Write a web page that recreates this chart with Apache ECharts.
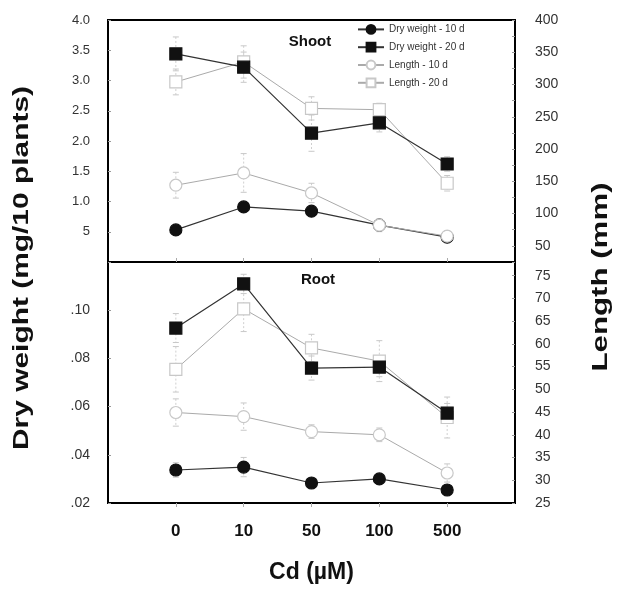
<!DOCTYPE html>
<html>
<head>
<meta charset="utf-8">
<script src="https://cdn.jsdelivr.net/npm/echarts@6/dist/echarts.min.js"></script>
<style>
  html, body { margin: 0; padding: 0; background: #fff; }
  #chart { width: 617px; height: 591px; }
</style>
</head>
<body>
<div id="chart"></div>
<script>
// categories (Cd, uM)
var cats = ['0', '10', '50', '100', '500'];
var names = ['Dry weight - 10 d', 'Dry weight - 20 d', 'Length - 10 d', 'Length - 20 d'];

// shoot (top panel): dry weight mg/10 plants, length mm
var shootDw10 = [0.53, 0.91, 0.84, 0.61, 0.41];
var shootDw20 = [3.44, 3.22, 2.13, 2.30, 1.62];
var shootLen10 = [144, 163, 132, 82, 65];
var shootLen20 = [304, 335, 263, 261, 147];
var shootDw10Err = [0.05, 0.08, 0.06, 0.05, 0.04];
var shootDw20Err = [0.28, 0.25, 0.3, 0.15, 0.12];
var shootLen10Err = [20, 30, 15, 10, 8];
var shootLen20Err = [20, 25, 18, 10, 12];

// root (bottom panel)
var rootDw10 = [0.0337, 0.0349, 0.0283, 0.0300, 0.0254];
var rootDw20 = [0.0926, 0.1109, 0.0760, 0.0764, 0.0573];
var rootLen10 = [44.9, 44.0, 40.7, 40.0, 31.6];
var rootLen20 = [54.4, 67.7, 59.1, 56.2, 43.8];
var rootDw10Err = [0.003, 0.004, 0.002, 0.002, 0.002];
var rootDw20Err = [0.006, 0.004, 0.005, 0.004, 0.004];
var rootLen10Err = [3, 3, 1.5, 1.5, 2];
var rootLen20Err = [5, 5, 3, 4.5, 4.5];

var chart = echarts.init(document.getElementById('chart'));
var FONT = 'Liberation Sans, Arial, sans-serif';

function pts(arr) {
  return arr.map(function (v, i) { return [i + 1, v]; });
}
function errPts(arr, err) {
  return arr.map(function (v, i) { return [i + 1, v, err[i]]; });
}

// filled circle, filled square, open circle, open square
var styles = [
  { symbol: 'circle', size: 12, fill: '#111', border: '#111', line: '#333', lw: 1.2 },
  { symbol: 'rect', size: 12, fill: '#111', border: '#111', line: '#333', lw: 1.2 },
  { symbol: 'circle', size: 12, fill: '#fff', border: '#c8c8c8', line: '#aaa', lw: 1 },
  { symbol: 'rect', size: 12, fill: '#fff', border: '#c8c8c8', line: '#aaa', lw: 1 }
];

function lineSeries(k, data, xi, yi, z) {
  var s = styles[k];
  return {
    name: names[k], type: 'line', xAxisIndex: xi, yAxisIndex: yi,
    data: pts(data), symbol: s.symbol, symbolSize: s.size, z: z,
    lineStyle: { color: s.line, width: s.lw },
    itemStyle: { color: s.fill, borderColor: s.border, borderWidth: 1.2 }
  };
}

function errSeries(data, err, xi, yi) {
  return {
    type: 'custom', xAxisIndex: xi, yAxisIndex: yi, silent: true, z: 2,
    data: errPts(data, err),
    renderItem: function (params, api) {
      var x = api.value(0), v = api.value(1), e = api.value(2);
      var hi = api.coord([x, v + e]), lo = api.coord([x, v - e]);
      var cap = { stroke: '#c8c8c8', lineWidth: 1 };
      return {
        type: 'group', children: [
          { type: 'line', shape: { x1: hi[0], y1: hi[1], x2: lo[0], y2: lo[1] },
            style: { stroke: '#cfcfcf', lineWidth: 1, lineDash: [2, 2] } },
          { type: 'line', shape: { x1: hi[0] - 3, y1: hi[1], x2: hi[0] + 3, y2: hi[1] }, style: cap },
          { type: 'line', shape: { x1: lo[0] - 3, y1: lo[1], x2: lo[0] + 3, y2: lo[1] }, style: cap }
        ]
      };
    }
  };
}

function xAx(gi, showLabels) {
  return {
    type: 'value', gridIndex: gi, min: 0, max: 6, interval: 1,
    axisLine: { show: false }, splitLine: { show: false },
    axisTick: { show: true, inside: !showLabels, length: 4, lineStyle: { color: '#aaa' },
      customValues: [1, 2, 3, 4, 5] },
    axisLabel: {
      show: showLabels, margin: 20, customValues: [1, 2, 3, 4, 5],
      formatter: function (v) { return cats[v - 1] || ''; },
      color: '#111', fontSize: 17, fontWeight: 'bold', fontFamily: FONT
    },
    name: showLabels ? 'Cd (\u00b5M)' : '', nameLocation: 'middle', nameGap: 58,
    nameTextStyle: { color: '#111', fontSize: 23, fontWeight: 'bold', fontFamily: FONT }
  };
}

function yAx(gi, pos, min, max, interval, fmt, fs, margin) {
  return {
    type: 'value', gridIndex: gi, position: pos, min: min, max: max, interval: interval,
    axisLine: { show: false }, splitLine: { show: false },
    axisTick: { show: true, inside: true, length: 3, lineStyle: { color: '#999' } },
    axisLabel: { color: '#333', fontFamily: FONT, fontSize: fs, margin: margin, formatter: fmt }
  };
}

var option = {
  backgroundColor: '#fff',
  animation: false,
  title: [
    { text: 'Shoot', left: 305, top: 29, textAlign: 'center',
      textStyle: { fontSize: 15, fontWeight: 'bold', color: '#111', fontFamily: FONT } },
    { text: 'Root', left: 313, top: 267, textAlign: 'center',
      textStyle: { fontSize: 15, fontWeight: 'bold', color: '#111', fontFamily: FONT } }
  ],
  legend: {
    data: names, orient: 'vertical', left: 352, top: 19, itemGap: 7,
    itemWidth: 26, itemHeight: 11,
    textStyle: { fontSize: 10, color: '#333', fontFamily: FONT }
  },
  grid: [
    { left: 108, right: 102, top: 20, height: 242, show: true, borderColor: '#000', borderWidth: 2 },
    { left: 108, right: 102, top: 262, height: 241, show: true, borderColor: '#000', borderWidth: 2 }
  ],
  xAxis: [xAx(0, false), xAx(1, true)],
  yAxis: [
    yAx(0, 'left', 0, 4, 0.5, function (v) {
      if (v === 0) return '';
      if (v === 0.5) return '5';
      return v.toFixed(1);
    }, 13, 18),
    yAx(0, 'right', 25, 400, 25, function (v) {
      return (v >= 50 && v % 50 === 0) ? String(v) : '';
    }, 14, 20),
    yAx(1, 'left', 0.02, 0.12, 0.02, function (v) {
      if (v > 0.11) return '';
      return v.toFixed(2).replace(/^0/, '');
    }, 14, 18),
    yAx(1, 'right', 25, 78, 5, function (v) {
      return v <= 75 ? String(v) : '';
    }, 14, 20)
  ],
  graphic: [
    { type: 'text', x: 22, y: 268, rotation: Math.PI / 2, scaleX: 1.36,
      style: { text: 'Dry weight (mg/10 plants)', align: 'center', verticalAlign: 'middle',
        fontSize: 22, fontWeight: 'bold', fill: '#111', fontFamily: FONT } },
    { type: 'text', x: 601, y: 277, rotation: Math.PI / 2, scaleX: 1.42,
      style: { text: 'Length (mm)', align: 'center', verticalAlign: 'middle',
        fontSize: 22, fontWeight: 'bold', fill: '#111', fontFamily: FONT } }
  ],
  series: [
    errSeries(shootDw10, shootDw10Err, 0, 0),
    errSeries(shootDw20, shootDw20Err, 0, 0),
    errSeries(shootLen10, shootLen10Err, 0, 1),
    errSeries(shootLen20, shootLen20Err, 0, 1),
    errSeries(rootDw10, rootDw10Err, 1, 2),
    errSeries(rootDw20, rootDw20Err, 1, 2),
    errSeries(rootLen10, rootLen10Err, 1, 3),
    errSeries(rootLen20, rootLen20Err, 1, 3),
    // top panel: open circles over filled circles, filled squares over open squares
    lineSeries(0, shootDw10, 0, 0, 3),
    lineSeries(1, shootDw20, 0, 0, 4),
    lineSeries(2, shootLen10, 0, 1, 4),
    lineSeries(3, shootLen20, 0, 1, 3),
    // bottom panel: filled markers on top
    lineSeries(2, rootLen10, 1, 3, 3),
    lineSeries(3, rootLen20, 1, 3, 3),
    lineSeries(0, rootDw10, 1, 2, 4),
    lineSeries(1, rootDw20, 1, 2, 4)
  ]
};

chart.setOption(option);
</script>
</body>
</html>
